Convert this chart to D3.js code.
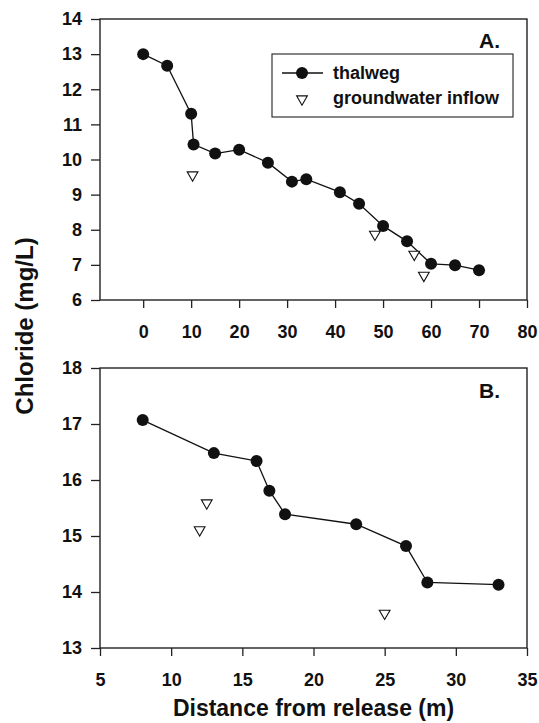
<!DOCTYPE html>
<html>
<head>
<meta charset="UTF-8">
<script src="https://d3js.org/d3.v7.min.js"></script>
<style>
  body { margin: 0; background: #fff; }
  svg text { font-family: "Liberation Sans", Arial, sans-serif; font-weight: bold; fill: #111; }
</style>
</head>
<body>
<div id="chart"></div>
<script>
// panel A: distance (m) vs chloride (mg/L)
var aThalwegX = [0, 5, 10, 10.5, 15, 20, 26, 31, 34, 41, 45, 50, 55, 60, 65, 70];
var aThalwegY = [13.0, 12.67, 11.3, 10.43, 10.17, 10.28, 9.91, 9.37, 9.44, 9.07, 8.74, 8.11, 7.67, 7.03, 6.99, 6.85];
var aInflowX = [10.3, 48.3, 56.5, 58.5];
var aInflowY = [9.56, 7.87, 7.30, 6.70];
var aXTicks = [0, 10, 20, 30, 40, 50, 60, 70, 80];
var aYTicks = [6, 7, 8, 9, 10, 11, 12, 13, 14];

// panel B
var bThalwegX = [8, 13, 16, 16.9, 18, 23, 26.5, 28, 33];
var bThalwegY = [17.07, 16.48, 16.34, 15.81, 15.39, 15.21, 14.82, 14.17, 14.13];
var bInflowX = [12.5, 12.0, 25.0];
var bInflowY = [15.59, 15.11, 13.62];
var bXTicks = [5, 10, 15, 20, 25, 30, 35];
var bYTicks = [13, 14, 15, 16, 17, 18];

var width = 539, height = 723;
var svg = d3.select("#chart").append("svg")
  .attr("width", width).attr("height", height);

var left = 100, right = 527;

function panel(cfg) {
  var x = d3.scaleLinear().domain(cfg.xDomain).range([left, right]);
  var y = d3.scaleLinear().domain(cfg.yDomain).range([cfg.bottom, cfg.top]);
  var g = svg.append("g");

  // frame
  g.append("rect")
    .attr("x", left).attr("y", cfg.top)
    .attr("width", right - left).attr("height", cfg.bottom - cfg.top)
    .attr("fill", "none").attr("stroke", "#222").attr("stroke-width", 1.4);

  var xAxis = g.append("g")
    .attr("transform", "translate(0," + cfg.bottom + ")")
    .call(d3.axisBottom(x).tickValues(cfg.xTicks).tickFormat(d3.format("d"))
      .tickSize(8).tickSizeOuter(0).tickPadding(17));
  var yAxis = g.append("g")
    .attr("transform", "translate(" + left + ",0)")
    .call(d3.axisLeft(y).tickValues(cfg.yTicks).tickFormat(d3.format("d"))
      .tickSize(9).tickSizeOuter(0).tickPadding(9));
  [xAxis, yAxis].forEach(function(a) {
    a.select(".domain").remove();
    a.selectAll("line").attr("stroke", "#222").attr("stroke-width", 1.3);
    a.selectAll("text")
      .style("font-size", "18px")
      .style("font-family", "'Liberation Sans', Arial, sans-serif")
      .style("font-weight", "bold").style("fill", "#111");
  });

  var pts = cfg.tx.map(function(d, i) { return [d, cfg.ty[i]]; });
  g.append("path")
    .datum(pts)
    .attr("fill", "none").attr("stroke", "#111").attr("stroke-width", 1.3)
    .attr("d", d3.line().x(function(d) { return x(d[0]); }).y(function(d) { return y(d[1]); }));
  g.selectAll(".dot").data(pts).enter().append("circle")
    .attr("cx", function(d) { return x(d[0]); })
    .attr("cy", function(d) { return y(d[1]); })
    .attr("r", 6).attr("fill", "#111");

  var tri = d3.symbol().type(d3.symbolTriangle).size(50);
  g.selectAll(".tri").data(cfg.ix.map(function(d, i) { return [d, cfg.iy[i]]; }))
    .enter().append("path")
    .attr("d", tri)
    .attr("transform", function(d) { return "translate(" + x(d[0]) + "," + y(d[1]) + ") rotate(180)"; })
    .attr("fill", "#fff").attr("stroke", "#111").attr("stroke-width", 1.1);

  g.append("text")
    .attr("x", 500).attr("y", cfg.labelY)
    .attr("text-anchor", "end").style("font-size", "21px")
    .text(cfg.label);
  return g;
}

var gA = panel({
  xDomain: [-9, 80], yDomain: [6, 14], top: 19, bottom: 300,
  xTicks: aXTicks, yTicks: aYTicks,
  tx: aThalwegX, ty: aThalwegY, ix: aInflowX, iy: aInflowY,
  label: "A.", labelY: 48
});

panel({
  xDomain: [5, 35], yDomain: [13, 18], top: 368, bottom: 648,
  xTicks: bXTicks, yTicks: bYTicks,
  tx: bThalwegX, ty: bThalwegY, ix: bInflowX, iy: bInflowY,
  label: "B.", labelY: 398
});

// legend in panel A
var lg = gA.append("g");
lg.append("rect")
  .attr("x", 272).attr("y", 54).attr("width", 241).attr("height", 63)
  .attr("fill", "#fff").attr("stroke", "#222").attr("stroke-width", 1.1);
lg.append("line")
  .attr("x1", 282).attr("x2", 323).attr("y1", 73).attr("y2", 73)
  .attr("stroke", "#111").attr("stroke-width", 1.3);
lg.append("circle").attr("cx", 302).attr("cy", 73).attr("r", 6).attr("fill", "#111");
lg.append("path")
  .attr("d", d3.symbol().type(d3.symbolTriangle).size(50))
  .attr("transform", "translate(302,99) rotate(180)")
  .attr("fill", "#fff").attr("stroke", "#111").attr("stroke-width", 1.1);
lg.append("text").attr("x", 333).attr("y", 79).style("font-size", "18px").text("thalweg");
lg.append("text").attr("x", 333).attr("y", 104).style("font-size", "18px").text("groundwater inflow");

// axis titles
svg.append("text")
  .attr("x", (left + right) / 2).attr("y", 716)
  .attr("text-anchor", "middle").style("font-size", "23px")
  .text("Distance from release (m)");
svg.append("text")
  .attr("transform", "translate(33,326) rotate(-90)")
  .attr("text-anchor", "middle").style("font-size", "24px")
  .text("Chloride (mg/L)");
</script>
</body>
</html>
